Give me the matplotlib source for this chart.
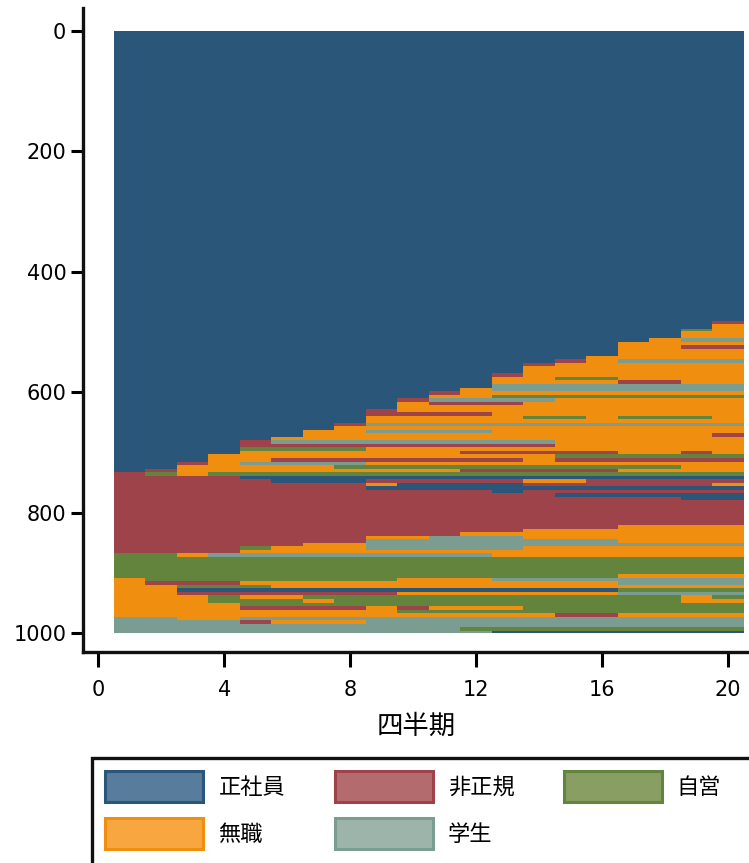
import re
import numpy as np
import matplotlib
matplotlib.use('Agg')
import matplotlib.pyplot as plt
from matplotlib.colors import ListedColormap
from matplotlib.patches import Patch, Rectangle

plt.rcParams['font.family'] = ['DejaVu Sans', 'Noto Sans CJK JP']

# ---- data -------------------------------------------------------------
state_labels = ['正社員', '非正規', '自営', '無職', '学生']
state_codes = ['E', 'N', 'S', 'U', 'G']
state_colors = ['#2a5779', '#9f434b', '#62843d', '#f08e10', '#7b9d91']
legend_faces = ['#587c9c', '#b46b6e', '#889e63', '#f8a640', '#9cb4aa']

quarters = list(range(1, 21))
x_ticks = [0, 4, 8, 12, 16, 20]
y_ticks = [0, 200, 400, 600, 800, 1000]

# number of individuals sharing each sequence (top to bottom)
group_counts = [
    482, 5, 8, 3, 12, 7, 5, 6, 12, 5,
    6, 5, 12, 7, 5, 6, 7, 5, 7, 5,
    6, 5, 7, 5, 7, 5, 6, 5, 7, 5,
    6, 5, 7, 5, 7, 5, 6, 7, 5, 7,
    5, 6, 5, 7, 5, 6, 5, 7, 5, 42,
    6, 5, 7, 5, 6, 5, 7, 5, 7, 28,
    7, 5, 6, 5, 7, 5, 7, 6, 5, 7,
    5, 6, 5, 7, 5, 7, 3,
]
# state sequences over the 20 quarters (run-length: state code + quarters)
group_sequences = [
    'E20', 'E19N1', 'E19U1', 'E18S1U1', 'E18U2', 'E17U1G2', 'E16U4', 'E16U2N2', 'E16U4', 'E15U5',
    'E14N1U1G4', 'E13N1U6', 'E13U7', 'E12N1U7', 'E12U2S2U4', 'E12U4N2U2', 'E12G8', 'E11U1G8', 'E10N1U9', 'E10U2S8',
    'E9N1G4U6', 'E9U1N3U7', 'E9U11', 'E8N1U11', 'E8N4U8', 'E8U5S2U1S3U1', 'E8U12', 'E7N1G12', 'E7U13', 'E6U2G4U8',
    'E6U13N1', 'E5U15', 'E4N1G9U6', 'E4N10U6', 'E4S4U12', 'E4U7N5U2N1U1', 'E3U11S6', 'E3U2N8U1N6', 'E2N1U1G4U12', 'E2U5S11U2',
    'E1N1U9N5U4', 'N1S1U1S17', 'N4E16', 'N5E3N5U2N5', 'N8U1E4N6U1', 'N8E12', 'N12E1N7', 'N14E6', 'N18E2', 'N20',
    'N16U4', 'N13U7', 'N11U9', 'N8U2G3U7', 'N8G8U4', 'N6U2G12', 'N4S1U3G5U7', 'N4U16', 'S2U1G9U8', 'S20',
    'S16U4', 'U1S8U3G8', 'U1N3U12G4', 'U2S3U15', 'U2E14S4', 'U2N7U7G4', 'U3S1U2S12U1S1', 'U3S3U1S11U2', 'U4S16', 'U4N4U1N1U3S7',
    'U9S11', 'U14N2U4', 'G2U2G16', 'G4N1U3G12', 'G20', 'G11S9', 'G12E8',
]


def expand(seq):
    out = []
    for code, n in re.findall(r'([A-Z])(\d+)', seq):
        out += [state_codes.index(code)] * int(n)
    out = (out + out[-1:] * len(quarters))[:len(quarters)]
    return out


rows = []
for cnt, seq in zip(group_counts, group_sequences):
    rows.extend([expand(seq)] * cnt)
mat = np.array(rows)

# ---- figure -----------------------------------------------------------
W, H = 749, 863
fig = plt.figure(figsize=(W / 100, H / 100), dpi=100)
ax = fig.add_axes([83 / W, 1 - 652 / H, (W - 83) / W, (652 - 8) / H])

q = np.array(quarters)
x_edges = np.append(q - 0.5, q[-1] + 0.5)
y_edges = np.arange(mat.shape[0] + 1)
ax.pcolormesh(x_edges, y_edges, mat, cmap=ListedColormap(state_colors),
              vmin=-0.5, vmax=len(state_colors) - 0.5, shading='flat',
              antialiased=False, edgecolors='none')

ax.set_xlim(-0.484, 20.66)
ax.set_ylim(1031.6, -38.2)
ax.set_xticks(x_ticks)
ax.set_yticks(y_ticks)
ax.tick_params(axis='both', direction='out', width=2.2, labelsize=15,
               colors='black')
ax.tick_params(axis='y', length=9, pad=3)
ax.tick_params(axis='x', length=11, pad=9)
for side in ('top', 'right'):
    ax.spines[side].set_visible(False)
for side in ('left', 'bottom'):
    ax.spines[side].set_linewidth(2.4)
    ax.spines[side].set_color('#111111')
ax.set_xlabel('四半期', fontsize=19, labelpad=10)

order = [0, 3, 1, 4, 2]
handles = [Patch(facecolor=legend_faces[i], edgecolor=state_colors[i],
                 linewidth=2.2, label=state_labels[i]) for i in order]
leg = fig.legend(handles=handles, loc='upper left',
                 bbox_to_anchor=(92 / W, 1 - 758 / H),
                 bbox_transform=fig.transFigure, ncol=3, fontsize=16,
                 handlelength=4.41, handleheight=1.77, handletextpad=0.68,
                 columnspacing=2.22, labelspacing=0.72, borderpad=0.6,
                 borderaxespad=0, frameon=False)
# legend box (runs past the right and bottom edges, as in the reference)
fig.patches.append(Rectangle((92 / W, 1 - 885 / H), (800 - 92) / W,
                             (885 - 758) / H, transform=fig.transFigure,
                             fill=False, edgecolor='#111111', linewidth=2.4))

fig.savefig('out.png', dpi=100)
